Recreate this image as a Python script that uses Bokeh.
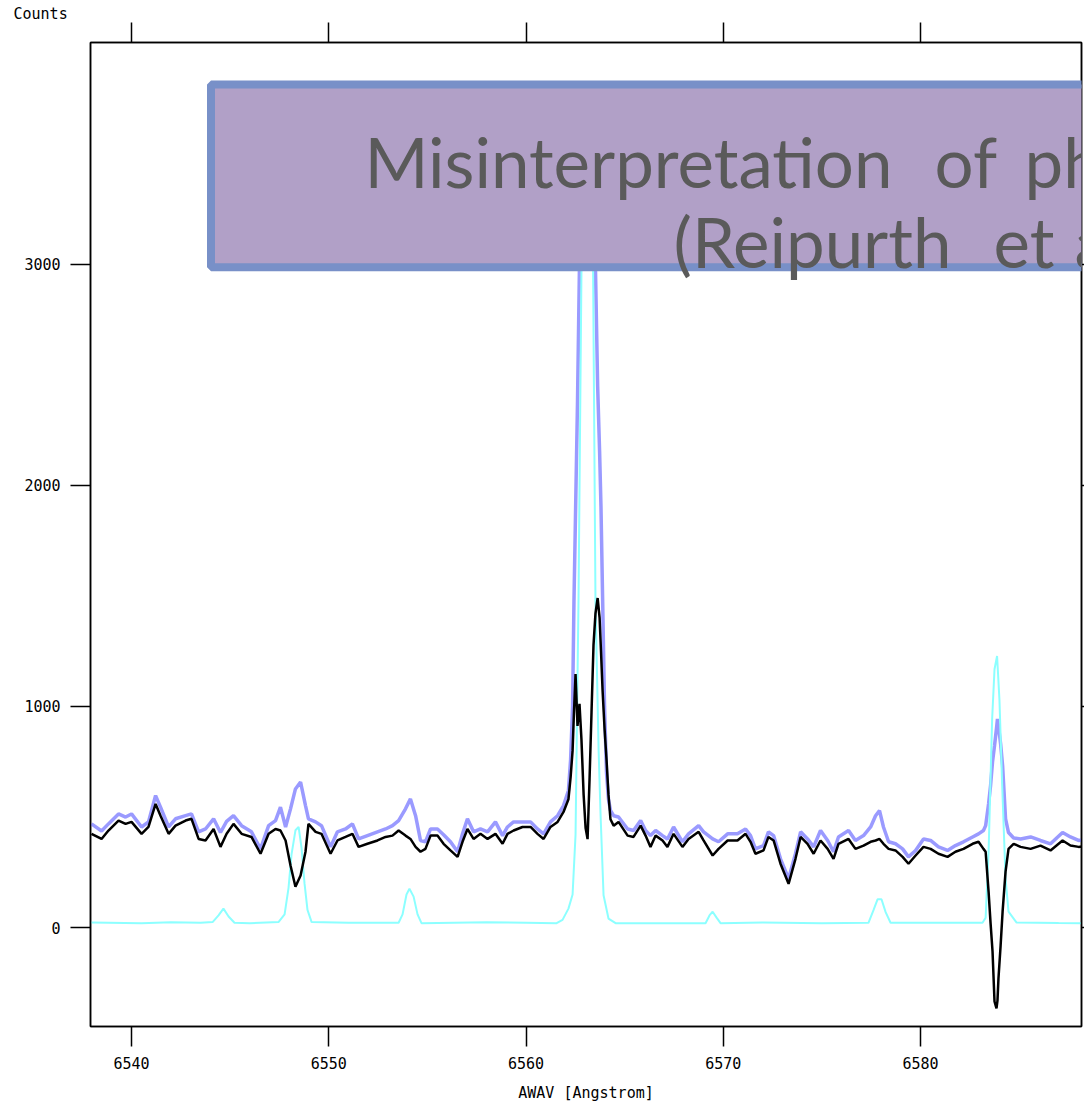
from bokeh.plotting import figure
from bokeh.models import Range1d, FixedTicker, LinearAxis, BoxAnnotation, Label
from bokeh.embed import file_html
from bokeh.resources import INLINE

# ---- data ----
wl_obs = [6537.97, 6538.48, 6538.83, 6539.34, 6539.70, 6540.00, 6540.51, 6540.86, 6541.22, 6541.47,
          6541.88, 6542.23, 6542.74, 6543.04, 6543.40, 6543.75, 6544.16, 6544.51, 6544.82, 6545.17,
          6545.58, 6546.08, 6546.54, 6546.95, 6547.30, 6547.55, 6547.81, 6548.06, 6548.31, 6548.57,
          6548.82, 6548.97, 6549.33, 6549.63, 6550.09, 6550.44, 6550.85, 6551.20, 6551.51, 6551.96,
          6552.47, 6552.88, 6553.23, 6553.54, 6553.89, 6554.14, 6554.40, 6554.65, 6554.90, 6555.16,
          6555.51, 6555.82, 6556.17, 6556.53, 6556.78, 6557.03, 6557.34, 6557.69, 6558.05, 6558.45,
          6558.81, 6559.06, 6559.37, 6559.82, 6560.23, 6560.58, 6560.89, 6561.24, 6561.60, 6561.90,
          6562.15, 6562.26, 6562.36, 6562.43, 6562.51, 6562.61, 6562.71, 6562.81, 6562.92, 6563.02,
          6563.12, 6563.22, 6563.32, 6563.42, 6563.52, 6563.63, 6563.73, 6563.80, 6563.88, 6563.98,
          6564.08, 6564.18, 6564.28, 6564.44, 6564.69, 6565.15, 6565.45, 6565.81, 6566.06, 6566.31,
          6566.57, 6566.92, 6567.17, 6567.48, 6567.93, 6568.24, 6568.75, 6569.00, 6569.46, 6569.76,
          6570.22, 6570.72, 6571.13, 6571.38, 6571.63, 6572.04, 6572.29, 6572.55, 6572.90, 6573.31,
          6573.66, 6573.92, 6574.27, 6574.58, 6574.93, 6575.29, 6575.59, 6575.84, 6576.35, 6576.70,
          6577.11, 6577.47, 6577.72, 6577.92, 6578.12, 6578.38, 6578.73, 6579.09, 6579.39, 6579.75,
          6580.15, 6580.51, 6580.91, 6581.37, 6581.77, 6582.18, 6582.64, 6582.94, 6583.19, 6583.30,
          6583.45, 6583.55, 6583.65, 6583.75, 6583.85, 6583.90, 6583.95, 6584.06, 6584.16, 6584.31,
          6584.46, 6584.72, 6585.07, 6585.58, 6586.08, 6586.59, 6587.20, 6587.60, 6588.01, 6588.42]

flux_black = [424, 401, 439, 484, 469, 478, 424, 455, 559, 506,
              424, 461, 484, 492, 401, 394, 446, 365, 424, 469,
              424, 410, 334, 424, 446, 439, 394, 281, 185, 236,
              343, 469, 433, 424, 334, 394, 410, 424, 365, 379,
              394, 410, 416, 439, 416, 401, 365, 343, 356, 416,
              416, 379, 349, 320, 388, 446, 401, 424, 401, 424,
              379, 424, 439, 455, 455, 424, 401, 455, 478, 523,
              580, 680, 800, 974, 1146, 912, 1012, 850, 600, 450,
              400, 672, 974, 1276, 1420, 1490, 1400, 1250, 1073, 900,
              760, 600, 490, 461, 478, 416, 410, 461, 416, 365,
              416, 394, 365, 424, 365, 401, 433, 394, 326, 356,
              394, 394, 424, 388, 334, 349, 410, 394, 289, 198,
              311, 410, 379, 334, 394, 356, 311, 379, 401, 356,
              371, 388, 394, 401, 379, 356, 349, 320, 289, 326,
              365, 356, 334, 320, 343, 356, 379, 388, 356, 343,
              162, 20, -108, -334, -365, -330, -230, -80, 72, 253,
              356, 379, 365, 356, 371, 349, 394, 371, 365, 370]

flux_purple = [469, 437, 469, 514, 500, 514, 455, 478, 597, 545,
               455, 492, 506, 514, 433, 446, 492, 430, 480, 506,
               461, 433, 356, 461, 484, 545, 455, 537, 627, 658,
               552, 492, 478, 461, 365, 433, 446, 469, 401, 416,
               433, 446, 461, 484, 537, 582, 506, 394, 388, 446,
               446, 420, 388, 343, 424, 492, 433, 446, 433, 478,
               416, 455, 478, 478, 478, 446, 424, 478, 506, 552,
               620, 760, 1000, 1476, 1878, 2380, 3000, 3400, 3550, 3600,
               3650, 3600, 3500, 3300, 2980, 2450, 2150, 1900, 1500, 1000,
               700, 580, 530, 506, 500, 446, 439, 484, 439, 416,
               439, 416, 401, 455, 388, 424, 461, 433, 401, 388,
               424, 424, 446, 416, 356, 371, 433, 416, 311, 221,
               334, 433, 401, 365, 439, 394, 343, 410, 439, 394,
               416, 455, 506, 529, 455, 388, 379, 356, 320, 349,
               401, 394, 365, 349, 371, 388, 410, 424, 439, 461,
               560, 642, 750, 822, 900, 943, 912, 830, 732, 492,
               430, 405, 401, 410, 394, 379, 430, 410, 394, 400]

wl_model = [6537.97, 6540.50, 6542.00, 6543.50, 6544.11, 6544.41, 6544.66, 6544.92, 6545.22, 6546.00,
            6547.45, 6547.76, 6547.96, 6548.11, 6548.31, 6548.47, 6548.62, 6548.77, 6548.92, 6549.13,
            6551.00, 6553.54, 6553.74, 6553.94, 6554.09, 6554.30, 6554.50, 6554.70, 6558.00, 6560.00,
            6561.55, 6561.85, 6562.15, 6562.36, 6562.51, 6562.66, 6562.81, 6562.97, 6563.12, 6563.27,
            6563.40, 6563.52, 6563.68, 6563.78, 6563.93, 6564.18, 6564.54, 6566.00, 6569.10, 6569.30,
            6569.46, 6569.66, 6569.86, 6572.00, 6575.00, 6577.36, 6577.62, 6577.82, 6578.02, 6578.23,
            6578.48, 6581.00, 6583.14, 6583.30, 6583.45, 6583.63, 6583.75, 6583.88, 6584.00, 6584.14,
            6584.31, 6584.46, 6584.87, 6587.00, 6588.42]

flux_cyan = [23, 20, 24, 22, 25, 55, 86, 50, 22, 20,
             25, 60, 180, 330, 440, 455, 360, 200, 80, 25,
             22, 22, 60, 150, 176, 140, 60, 20, 24, 22,
             20, 35, 86, 150, 420, 1480, 2970, 3450, 3550, 3400,
             2970, 1480, 800, 506, 146, 41, 20, 20, 20, 55,
             72, 45, 20, 23, 20, 22, 80, 128, 128, 70,
             22, 22, 22, 45, 343, 943, 1168, 1228, 1030, 642,
             221, 72, 23, 21, 20]

x_ticks = [6540, 6550, 6560, 6570, 6580]
y_ticks = [0, 1000, 2000, 3000]

title_line1 = ["Misinterpretation", "of", "ph"]
title_line2 = ["(Reipurth", "et", "a"]

# ---- figure ----
MONO = "DejaVu Sans Mono"
p = figure(width=1084, height=1104, output_backend="svg", toolbar_location=None,
           x_range=Range1d(6537.92, 6588.16), y_range=Range1d(-447, 4001.5),
           min_border_left=90, min_border_right=3, min_border_top=42, min_border_bottom=76,
           title="Counts")
p.grid.visible = False
p.background_fill_color = "white"
p.border_fill_color = "white"
p.outline_line_color = "black"
p.outline_line_width = 1.5

p.title.text_font = MONO
p.title.text_font_size = "15px"
p.title.text_font_style = "normal"
p.title.text_color = "black"
p.title.align = "left"
p.title.offset = -77
p.title.standoff = 0

def style_axis(ax, ticks, show_labels=True, tick_out=20):
    ax.ticker = FixedTicker(ticks=ticks)
    ax.major_tick_out = tick_out
    ax.major_tick_in = 0
    ax.minor_tick_out = 0
    ax.minor_tick_in = 0
    ax.axis_line_color = "black"
    ax.axis_line_width = 1.5
    ax.major_tick_line_color = "black"
    ax.major_tick_line_width = 1.5
    if show_labels:
        ax.major_label_text_font = MONO
        ax.major_label_text_font_size = "15px"
        ax.major_label_text_color = "black"
        ax.major_label_standoff = 10
    else:
        ax.major_label_text_font_size = "1px"
        ax.major_label_text_color = None
        ax.major_label_standoff = 0

xa = p.xaxis[0]
style_axis(xa, x_ticks)
xa.axis_label = "AWAV [Angstrom]"
xa.axis_label_text_font = MONO
xa.axis_label_text_font_size = "15px"
xa.axis_label_text_font_style = "normal"
xa.axis_label_text_color = "black"
xa.axis_label_standoff = 12

ya = p.yaxis[0]
style_axis(ya, y_ticks)

top_ax = LinearAxis()
style_axis(top_ax, x_ticks, show_labels=False)
p.add_layout(top_ax, "above")

right_ax = LinearAxis()
style_axis(right_ax, y_ticks, show_labels=False, tick_out=3)
p.add_layout(right_ax, "right")

# ---- spectra ----
p.line(wl_obs, flux_purple, line_color="#9a9aff", line_width=3.5)
p.line(wl_model, flux_cyan, line_color="#8cffff", line_width=2)
p.line(wl_obs, flux_black, line_color="black", line_width=2.5)

# ---- overlay title box ----
box = BoxAnnotation(left=6544.03, right=6600, bottom=2986, top=3812,
                    fill_color="#b1a0c7", fill_alpha=1.0,
                    line_color="#7890c8", line_width=8, line_alpha=1.0)
p.add_layout(box)

line1_x = [6551.81, 6580.71, 6585.27]
line2_x = [6567.48, 6583.70, 6587.81]
for word, xx in zip(title_line1, line1_x):
    p.add_layout(Label(x=xx, y=3464.6, text=word, text_font="Lato", text_font_size="69px",
                       text_color="#5a5a5a", text_baseline="alphabetic", text_align="left"))
for word, xx in zip(title_line2, line2_x):
    p.add_layout(Label(x=xx, y=3103.7, text=word, text_font="Lato", text_font_size="69px",
                       text_color="#5a5a5a", text_baseline="alphabetic", text_align="left"))

open("out.html", "w").write(file_html(p, INLINE))
